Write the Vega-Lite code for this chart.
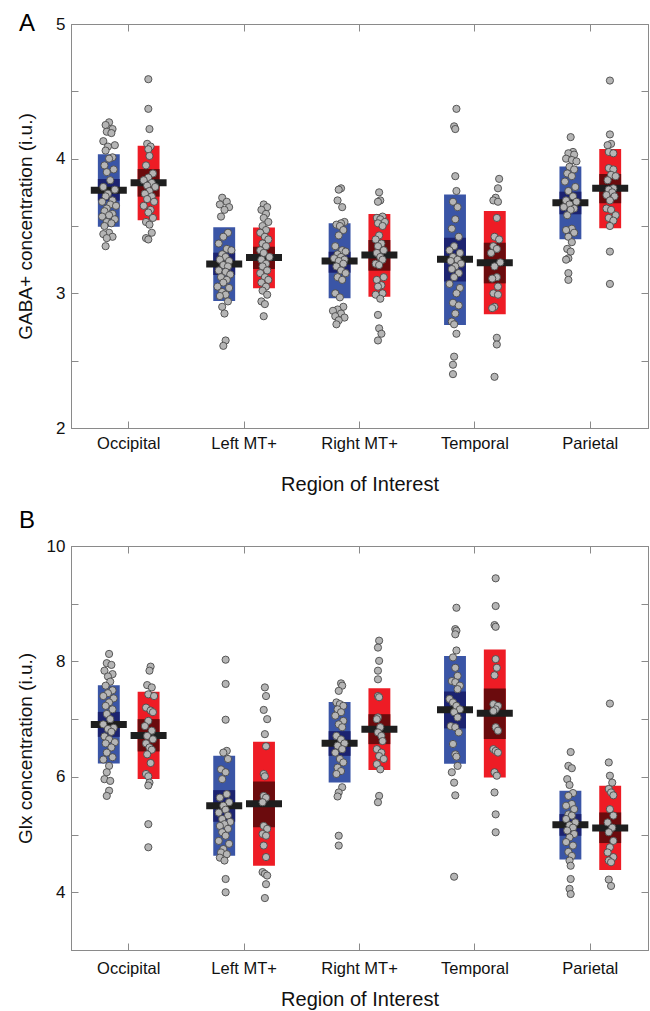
{
  "$schema": "https://vega.github.io/schema/vega-lite/v6.json",
  "padding": {"left": 15, "top": 11, "right": 0, "bottom": 0},
  "spacing": 13,
  "config": {
    "view": {"stroke": "#8a8a8a", "strokeWidth": 1},
    "font": "Liberation Sans",
    "axis": {
      "grid": false, "domainColor": "#8a8a8a", "tickColor": "#8a8a8a", "tickSize": -7, "tickWidth": 1,
      "labelFont": "Liberation Sans", "titleFont": "Liberation Sans", "labelColor": "#111111", "titleColor": "#111111",
      "labelFontSize": 16.5, "titleFontSize": 20, "titleFontWeight": "normal"
    },
    "title": {"font": "Liberation Sans", "fontSize": 24, "fontWeight": "normal", "color": "#000000", "anchor": "start", "frame": "group", "baseline": "alphabetic", "offset": 0}
  },
  "datasets": {
    "barsA": [
      {"r": "Occipital", "g": "b", "sdlo": 3.495, "sdhi": 4.032, "cilo": 3.688, "cihi": 3.849, "m": 3.765},
      {"r": "Occipital", "g": "r", "sdlo": 3.542, "sdhi": 4.096, "cilo": 3.718, "cihi": 3.923, "m": 3.822},
      {"r": "Left MT+", "g": "b", "sdlo": 2.943, "sdhi": 3.490, "cilo": 3.136, "cihi": 3.302, "m": 3.218},
      {"r": "Left MT+", "g": "r", "sdlo": 3.037, "sdhi": 3.488, "cilo": 3.181, "cihi": 3.346, "m": 3.267},
      {"r": "Right MT+", "g": "b", "sdlo": 2.963, "sdhi": 3.520, "cilo": 3.153, "cihi": 3.309, "m": 3.240},
      {"r": "Right MT+", "g": "r", "sdlo": 2.975, "sdhi": 3.589, "cilo": 3.168, "cihi": 3.396, "m": 3.285},
      {"r": "Temporal", "g": "b", "sdlo": 2.765, "sdhi": 3.733, "cilo": 3.087, "cihi": 3.413, "m": 3.253},
      {"r": "Temporal", "g": "r", "sdlo": 2.844, "sdhi": 3.611, "cilo": 3.074, "cihi": 3.376, "m": 3.228},
      {"r": "Parietal", "g": "b", "sdlo": 3.401, "sdhi": 3.941, "cilo": 3.587, "cihi": 3.755, "m": 3.673},
      {"r": "Parietal", "g": "r", "sdlo": 3.483, "sdhi": 4.072, "cilo": 3.669, "cihi": 3.886, "m": 3.780}
    ],
    "barsB": [
      {"r": "Occipital", "g": "b", "sdlo": 6.232, "sdhi": 7.588, "cilo": 6.693, "cihi": 7.126, "m": 6.907},
      {"r": "Occipital", "g": "r", "sdlo": 5.961, "sdhi": 7.473, "cilo": 6.440, "cihi": 7.000, "m": 6.717},
      {"r": "Left MT+", "g": "b", "sdlo": 4.633, "sdhi": 6.364, "cilo": 5.222, "cihi": 5.770, "m": 5.499},
      {"r": "Left MT+", "g": "r", "sdlo": 4.460, "sdhi": 6.607, "cilo": 5.125, "cihi": 5.921, "m": 5.533},
      {"r": "Right MT+", "g": "b", "sdlo": 5.904, "sdhi": 7.299, "cilo": 6.364, "cihi": 6.792, "m": 6.584},
      {"r": "Right MT+", "g": "r", "sdlo": 6.117, "sdhi": 7.536, "cilo": 6.567, "cihi": 7.086, "m": 6.827},
      {"r": "Temporal", "g": "b", "sdlo": 6.226, "sdhi": 8.096, "cilo": 6.839, "cihi": 7.479, "m": 7.161},
      {"r": "Temporal", "g": "r", "sdlo": 5.990, "sdhi": 8.206, "cilo": 6.654, "cihi": 7.531, "m": 7.104},
      {"r": "Parietal", "g": "b", "sdlo": 4.570, "sdhi": 5.758, "cilo": 4.979, "cihi": 5.355, "m": 5.170},
      {"r": "Parietal", "g": "r", "sdlo": 4.385, "sdhi": 5.845, "cilo": 4.853, "cihi": 5.384, "m": 5.113}
    ],
    "ptsA": [
      {"r":"Occipital","g":"b","v":4.27,"j":0.33},{"r":"Occipital","g":"b","v":4.25,"j":0.30},{"r":"Occipital","g":"b","v":4.22,"j":0.36},{"r":"Occipital","g":"b","v":4.20,"j":0.31},{"r":"Occipital","g":"b","v":4.19,"j":0.35},{"r":"Occipital","g":"b","v":4.13,"j":0.28},{"r":"Occipital","g":"b","v":4.10,"j":0.38},{"r":"Occipital","g":"b","v":4.09,"j":0.32},{"r":"Occipital","g":"b","v":4.06,"j":0.30},{"r":"Occipital","g":"b","v":4.01,"j":0.36},{"r":"Occipital","g":"b","v":4.00,"j":0.33},{"r":"Occipital","g":"b","v":3.95,"j":0.29},{"r":"Occipital","g":"b","v":3.92,"j":0.37},{"r":"Occipital","g":"b","v":3.90,"j":0.31},{"r":"Occipital","g":"b","v":3.84,"j":0.34},{"r":"Occipital","g":"b","v":3.79,"j":0.28},{"r":"Occipital","g":"b","v":3.77,"j":0.38},{"r":"Occipital","g":"b","v":3.74,"j":0.32},{"r":"Occipital","g":"b","v":3.72,"j":0.30},{"r":"Occipital","g":"b","v":3.69,"j":0.36},{"r":"Occipital","g":"b","v":3.68,"j":0.27},{"r":"Occipital","g":"b","v":3.66,"j":0.34},{"r":"Occipital","g":"b","v":3.65,"j":0.39},{"r":"Occipital","g":"b","v":3.63,"j":0.31},{"r":"Occipital","g":"b","v":3.61,"j":0.29},{"r":"Occipital","g":"b","v":3.59,"j":0.36},{"r":"Occipital","g":"b","v":3.58,"j":0.33},{"r":"Occipital","g":"b","v":3.57,"j":0.27},{"r":"Occipital","g":"b","v":3.55,"j":0.38},{"r":"Occipital","g":"b","v":3.53,"j":0.31},{"r":"Occipital","g":"b","v":3.52,"j":0.35},{"r":"Occipital","g":"b","v":3.50,"j":0.29},{"r":"Occipital","g":"b","v":3.45,"j":0.33},{"r":"Occipital","g":"b","v":3.44,"j":0.28},{"r":"Occipital","g":"b","v":3.42,"j":0.36},{"r":"Occipital","g":"b","v":3.41,"j":0.31},{"r":"Occipital","g":"b","v":3.35,"j":0.30},
      {"r":"Occipital","g":"r","v":4.59,"j":0.67},{"r":"Occipital","g":"r","v":4.37,"j":0.67},{"r":"Occipital","g":"r","v":4.22,"j":0.68},{"r":"Occipital","g":"r","v":4.11,"j":0.66},{"r":"Occipital","g":"r","v":4.09,"j":0.69},{"r":"Occipital","g":"r","v":4.07,"j":0.67},{"r":"Occipital","g":"r","v":4.02,"j":0.68},{"r":"Occipital","g":"r","v":3.95,"j":0.65},{"r":"Occipital","g":"r","v":3.89,"j":0.71},{"r":"Occipital","g":"r","v":3.86,"j":0.67},{"r":"Occipital","g":"r","v":3.84,"j":0.63},{"r":"Occipital","g":"r","v":3.82,"j":0.70},{"r":"Occipital","g":"r","v":3.80,"j":0.66},{"r":"Occipital","g":"r","v":3.79,"j":0.73},{"r":"Occipital","g":"r","v":3.76,"j":0.68},{"r":"Occipital","g":"r","v":3.74,"j":0.64},{"r":"Occipital","g":"r","v":3.72,"j":0.70},{"r":"Occipital","g":"r","v":3.70,"j":0.66},{"r":"Occipital","g":"r","v":3.68,"j":0.72},{"r":"Occipital","g":"r","v":3.65,"j":0.63},{"r":"Occipital","g":"r","v":3.62,"j":0.69},{"r":"Occipital","g":"r","v":3.60,"j":0.67},{"r":"Occipital","g":"r","v":3.56,"j":0.71},{"r":"Occipital","g":"r","v":3.53,"j":0.65},{"r":"Occipital","g":"r","v":3.51,"j":0.68},{"r":"Occipital","g":"r","v":3.45,"j":0.70},{"r":"Occipital","g":"r","v":3.41,"j":0.65},{"r":"Occipital","g":"r","v":3.40,"j":0.67},
      {"r":"Left MT+","g":"b","v":3.71,"j":0.31},{"r":"Left MT+","g":"b","v":3.68,"j":0.35},{"r":"Left MT+","g":"b","v":3.66,"j":0.29},{"r":"Left MT+","g":"b","v":3.64,"j":0.37},{"r":"Left MT+","g":"b","v":3.62,"j":0.33},{"r":"Left MT+","g":"b","v":3.57,"j":0.30},{"r":"Left MT+","g":"b","v":3.45,"j":0.36},{"r":"Left MT+","g":"b","v":3.42,"j":0.32},{"r":"Left MT+","g":"b","v":3.37,"j":0.28},{"r":"Left MT+","g":"b","v":3.33,"j":0.35},{"r":"Left MT+","g":"b","v":3.32,"j":0.39},{"r":"Left MT+","g":"b","v":3.29,"j":0.31},{"r":"Left MT+","g":"b","v":3.27,"j":0.34},{"r":"Left MT+","g":"b","v":3.25,"j":0.29},{"r":"Left MT+","g":"b","v":3.24,"j":0.37},{"r":"Left MT+","g":"b","v":3.21,"j":0.32},{"r":"Left MT+","g":"b","v":3.20,"j":0.36},{"r":"Left MT+","g":"b","v":3.17,"j":0.28},{"r":"Left MT+","g":"b","v":3.16,"j":0.34},{"r":"Left MT+","g":"b","v":3.14,"j":0.38},{"r":"Left MT+","g":"b","v":3.12,"j":0.30},{"r":"Left MT+","g":"b","v":3.10,"j":0.35},{"r":"Left MT+","g":"b","v":3.08,"j":0.32},{"r":"Left MT+","g":"b","v":3.05,"j":0.27},{"r":"Left MT+","g":"b","v":3.04,"j":0.37},{"r":"Left MT+","g":"b","v":3.01,"j":0.31},{"r":"Left MT+","g":"b","v":2.99,"j":0.34},{"r":"Left MT+","g":"b","v":2.98,"j":0.29},{"r":"Left MT+","g":"b","v":2.94,"j":0.36},{"r":"Left MT+","g":"b","v":2.90,"j":0.31},{"r":"Left MT+","g":"b","v":2.85,"j":0.33},{"r":"Left MT+","g":"b","v":2.65,"j":0.34},{"r":"Left MT+","g":"b","v":2.61,"j":0.32},
      {"r":"Left MT+","g":"r","v":3.66,"j":0.67},{"r":"Left MT+","g":"r","v":3.64,"j":0.70},{"r":"Left MT+","g":"r","v":3.62,"j":0.65},{"r":"Left MT+","g":"r","v":3.59,"j":0.69},{"r":"Left MT+","g":"r","v":3.56,"j":0.67},{"r":"Left MT+","g":"r","v":3.53,"j":0.71},{"r":"Left MT+","g":"r","v":3.50,"j":0.66},{"r":"Left MT+","g":"r","v":3.47,"j":0.69},{"r":"Left MT+","g":"r","v":3.45,"j":0.64},{"r":"Left MT+","g":"r","v":3.42,"j":0.68},{"r":"Left MT+","g":"r","v":3.40,"j":0.71},{"r":"Left MT+","g":"r","v":3.37,"j":0.66},{"r":"Left MT+","g":"r","v":3.35,"j":0.69},{"r":"Left MT+","g":"r","v":3.32,"j":0.64},{"r":"Left MT+","g":"r","v":3.30,"j":0.67},{"r":"Left MT+","g":"r","v":3.27,"j":0.72},{"r":"Left MT+","g":"r","v":3.25,"j":0.65},{"r":"Left MT+","g":"r","v":3.22,"j":0.69},{"r":"Left MT+","g":"r","v":3.20,"j":0.66},{"r":"Left MT+","g":"r","v":3.17,"j":0.70},{"r":"Left MT+","g":"r","v":3.15,"j":0.64},{"r":"Left MT+","g":"r","v":3.12,"j":0.68},{"r":"Left MT+","g":"r","v":3.10,"j":0.71},{"r":"Left MT+","g":"r","v":3.08,"j":0.65},{"r":"Left MT+","g":"r","v":3.05,"j":0.69},{"r":"Left MT+","g":"r","v":3.02,"j":0.66},{"r":"Left MT+","g":"r","v":2.99,"j":0.70},{"r":"Left MT+","g":"r","v":2.94,"j":0.65},{"r":"Left MT+","g":"r","v":2.92,"j":0.68},{"r":"Left MT+","g":"r","v":2.83,"j":0.67},
      {"r":"Right MT+","g":"b","v":3.78,"j":0.34},{"r":"Right MT+","g":"b","v":3.77,"j":0.32},{"r":"Right MT+","g":"b","v":3.69,"j":0.31},{"r":"Right MT+","g":"b","v":3.64,"j":0.35},{"r":"Right MT+","g":"b","v":3.53,"j":0.37},{"r":"Right MT+","g":"b","v":3.52,"j":0.34},{"r":"Right MT+","g":"b","v":3.51,"j":0.30},{"r":"Right MT+","g":"b","v":3.50,"j":0.33},{"r":"Right MT+","g":"b","v":3.47,"j":0.36},{"r":"Right MT+","g":"b","v":3.43,"j":0.32},{"r":"Right MT+","g":"b","v":3.35,"j":0.29},{"r":"Right MT+","g":"b","v":3.32,"j":0.35},{"r":"Right MT+","g":"b","v":3.31,"j":0.38},{"r":"Right MT+","g":"b","v":3.29,"j":0.31},{"r":"Right MT+","g":"b","v":3.27,"j":0.34},{"r":"Right MT+","g":"b","v":3.26,"j":0.28},{"r":"Right MT+","g":"b","v":3.25,"j":0.37},{"r":"Right MT+","g":"b","v":3.24,"j":0.32},{"r":"Right MT+","g":"b","v":3.22,"j":0.36},{"r":"Right MT+","g":"b","v":3.20,"j":0.30},{"r":"Right MT+","g":"b","v":3.17,"j":0.34},{"r":"Right MT+","g":"b","v":3.15,"j":0.38},{"r":"Right MT+","g":"b","v":3.12,"j":0.31},{"r":"Right MT+","g":"b","v":3.10,"j":0.35},{"r":"Right MT+","g":"b","v":3.00,"j":0.29},{"r":"Right MT+","g":"b","v":2.97,"j":0.33},{"r":"Right MT+","g":"b","v":2.90,"j":0.36},{"r":"Right MT+","g":"b","v":2.88,"j":0.31},{"r":"Right MT+","g":"b","v":2.87,"j":0.27},{"r":"Right MT+","g":"b","v":2.85,"j":0.34},{"r":"Right MT+","g":"b","v":2.83,"j":0.29},{"r":"Right MT+","g":"b","v":2.82,"j":0.37},{"r":"Right MT+","g":"b","v":2.80,"j":0.32},{"r":"Right MT+","g":"b","v":2.77,"j":0.30},
      {"r":"Right MT+","g":"r","v":3.75,"j":0.67},{"r":"Right MT+","g":"r","v":3.69,"j":0.68},{"r":"Right MT+","g":"r","v":3.68,"j":0.66},{"r":"Right MT+","g":"r","v":3.57,"j":0.70},{"r":"Right MT+","g":"r","v":3.56,"j":0.65},{"r":"Right MT+","g":"r","v":3.55,"j":0.68},{"r":"Right MT+","g":"r","v":3.53,"j":0.72},{"r":"Right MT+","g":"r","v":3.52,"j":0.66},{"r":"Right MT+","g":"r","v":3.50,"j":0.70},{"r":"Right MT+","g":"r","v":3.43,"j":0.67},{"r":"Right MT+","g":"r","v":3.40,"j":0.64},{"r":"Right MT+","g":"r","v":3.37,"j":0.69},{"r":"Right MT+","g":"r","v":3.35,"j":0.66},{"r":"Right MT+","g":"r","v":3.32,"j":0.71},{"r":"Right MT+","g":"r","v":3.30,"j":0.65},{"r":"Right MT+","g":"r","v":3.27,"j":0.68},{"r":"Right MT+","g":"r","v":3.25,"j":0.70},{"r":"Right MT+","g":"r","v":3.22,"j":0.64},{"r":"Right MT+","g":"r","v":3.21,"j":0.67},{"r":"Right MT+","g":"r","v":3.12,"j":0.71},{"r":"Right MT+","g":"r","v":3.10,"j":0.65},{"r":"Right MT+","g":"r","v":3.06,"j":0.69},{"r":"Right MT+","g":"r","v":3.05,"j":0.66},{"r":"Right MT+","g":"r","v":3.00,"j":0.70},{"r":"Right MT+","g":"r","v":2.99,"j":0.64},{"r":"Right MT+","g":"r","v":2.96,"j":0.68},{"r":"Right MT+","g":"r","v":2.84,"j":0.66},{"r":"Right MT+","g":"r","v":2.74,"j":0.67},{"r":"Right MT+","g":"r","v":2.70,"j":0.69},{"r":"Right MT+","g":"r","v":2.65,"j":0.66},
      {"r":"Temporal","g":"b","v":4.37,"j":0.34},{"r":"Temporal","g":"b","v":4.24,"j":0.32},{"r":"Temporal","g":"b","v":4.22,"j":0.33},{"r":"Temporal","g":"b","v":3.87,"j":0.33},{"r":"Temporal","g":"b","v":3.76,"j":0.34},{"r":"Temporal","g":"b","v":3.68,"j":0.31},{"r":"Temporal","g":"b","v":3.64,"j":0.35},{"r":"Temporal","g":"b","v":3.55,"j":0.33},{"r":"Temporal","g":"b","v":3.48,"j":0.30},{"r":"Temporal","g":"b","v":3.42,"j":0.36},{"r":"Temporal","g":"b","v":3.35,"j":0.32},{"r":"Temporal","g":"b","v":3.32,"j":0.28},{"r":"Temporal","g":"b","v":3.30,"j":0.37},{"r":"Temporal","g":"b","v":3.27,"j":0.31},{"r":"Temporal","g":"b","v":3.25,"j":0.35},{"r":"Temporal","g":"b","v":3.24,"j":0.29},{"r":"Temporal","g":"b","v":3.22,"j":0.38},{"r":"Temporal","g":"b","v":3.20,"j":0.33},{"r":"Temporal","g":"b","v":3.18,"j":0.30},{"r":"Temporal","g":"b","v":3.15,"j":0.36},{"r":"Temporal","g":"b","v":3.12,"j":0.32},{"r":"Temporal","g":"b","v":3.07,"j":0.28},{"r":"Temporal","g":"b","v":3.04,"j":0.37},{"r":"Temporal","g":"b","v":3.00,"j":0.34},{"r":"Temporal","g":"b","v":2.93,"j":0.31},{"r":"Temporal","g":"b","v":2.91,"j":0.36},{"r":"Temporal","g":"b","v":2.85,"j":0.33},{"r":"Temporal","g":"b","v":2.79,"j":0.30},{"r":"Temporal","g":"b","v":2.77,"j":0.32},{"r":"Temporal","g":"b","v":2.70,"j":0.34},{"r":"Temporal","g":"b","v":2.53,"j":0.32},{"r":"Temporal","g":"b","v":2.47,"j":0.31},{"r":"Temporal","g":"b","v":2.40,"j":0.31},
      {"r":"Temporal","g":"r","v":3.85,"j":0.71},{"r":"Temporal","g":"r","v":3.78,"j":0.70},{"r":"Temporal","g":"r","v":3.71,"j":0.68},{"r":"Temporal","g":"r","v":3.69,"j":0.66},{"r":"Temporal","g":"r","v":3.68,"j":0.70},{"r":"Temporal","g":"r","v":3.56,"j":0.69},{"r":"Temporal","g":"r","v":3.42,"j":0.67},{"r":"Temporal","g":"r","v":3.40,"j":0.71},{"r":"Temporal","g":"r","v":3.35,"j":0.66},{"r":"Temporal","g":"r","v":3.33,"j":0.69},{"r":"Temporal","g":"r","v":3.30,"j":0.64},{"r":"Temporal","g":"r","v":3.23,"j":0.72},{"r":"Temporal","g":"r","v":3.20,"j":0.67},{"r":"Temporal","g":"r","v":3.12,"j":0.69},{"r":"Temporal","g":"r","v":3.11,"j":0.65},{"r":"Temporal","g":"r","v":3.05,"j":0.70},{"r":"Temporal","g":"r","v":3.00,"j":0.66},{"r":"Temporal","g":"r","v":2.99,"j":0.70},{"r":"Temporal","g":"r","v":2.90,"j":0.67},{"r":"Temporal","g":"r","v":2.89,"j":0.65},{"r":"Temporal","g":"r","v":2.67,"j":0.69},{"r":"Temporal","g":"r","v":2.62,"j":0.69},{"r":"Temporal","g":"r","v":2.38,"j":0.67},
      {"r":"Parietal","g":"b","v":4.16,"j":0.33},{"r":"Parietal","g":"b","v":4.05,"j":0.35},{"r":"Parietal","g":"b","v":4.04,"j":0.31},{"r":"Parietal","g":"b","v":4.03,"j":0.36},{"r":"Parietal","g":"b","v":4.00,"j":0.29},{"r":"Parietal","g":"b","v":3.99,"j":0.34},{"r":"Parietal","g":"b","v":3.98,"j":0.38},{"r":"Parietal","g":"b","v":3.94,"j":0.32},{"r":"Parietal","g":"b","v":3.92,"j":0.36},{"r":"Parietal","g":"b","v":3.89,"j":0.30},{"r":"Parietal","g":"b","v":3.87,"j":0.34},{"r":"Parietal","g":"b","v":3.83,"j":0.28},{"r":"Parietal","g":"b","v":3.79,"j":0.37},{"r":"Parietal","g":"b","v":3.76,"j":0.31},{"r":"Parietal","g":"b","v":3.72,"j":0.35},{"r":"Parietal","g":"b","v":3.69,"j":0.29},{"r":"Parietal","g":"b","v":3.68,"j":0.38},{"r":"Parietal","g":"b","v":3.66,"j":0.32},{"r":"Parietal","g":"b","v":3.64,"j":0.27},{"r":"Parietal","g":"b","v":3.63,"j":0.36},{"r":"Parietal","g":"b","v":3.62,"j":0.33},{"r":"Parietal","g":"b","v":3.58,"j":0.30},{"r":"Parietal","g":"b","v":3.48,"j":0.34},{"r":"Parietal","g":"b","v":3.47,"j":0.29},{"r":"Parietal","g":"b","v":3.45,"j":0.36},{"r":"Parietal","g":"b","v":3.42,"j":0.31},{"r":"Parietal","g":"b","v":3.38,"j":0.34},{"r":"Parietal","g":"b","v":3.33,"j":0.30},{"r":"Parietal","g":"b","v":3.31,"j":0.33},{"r":"Parietal","g":"b","v":3.26,"j":0.31},{"r":"Parietal","g":"b","v":3.25,"j":0.29},{"r":"Parietal","g":"b","v":3.15,"j":0.31},{"r":"Parietal","g":"b","v":3.10,"j":0.31},
      {"r":"Parietal","g":"r","v":4.58,"j":0.67},{"r":"Parietal","g":"r","v":4.18,"j":0.67},{"r":"Parietal","g":"r","v":4.11,"j":0.68},{"r":"Parietal","g":"r","v":4.10,"j":0.65},{"r":"Parietal","g":"r","v":4.05,"j":0.66},{"r":"Parietal","g":"r","v":4.04,"j":0.70},{"r":"Parietal","g":"r","v":3.93,"j":0.66},{"r":"Parietal","g":"r","v":3.92,"j":0.70},{"r":"Parietal","g":"r","v":3.88,"j":0.68},{"r":"Parietal","g":"r","v":3.87,"j":0.72},{"r":"Parietal","g":"r","v":3.84,"j":0.65},{"r":"Parietal","g":"r","v":3.78,"j":0.70},{"r":"Parietal","g":"r","v":3.77,"j":0.66},{"r":"Parietal","g":"r","v":3.75,"j":0.69},{"r":"Parietal","g":"r","v":3.73,"j":0.64},{"r":"Parietal","g":"r","v":3.72,"j":0.71},{"r":"Parietal","g":"r","v":3.69,"j":0.67},{"r":"Parietal","g":"r","v":3.63,"j":0.64},{"r":"Parietal","g":"r","v":3.62,"j":0.68},{"r":"Parietal","g":"r","v":3.58,"j":0.72},{"r":"Parietal","g":"r","v":3.56,"j":0.66},{"r":"Parietal","g":"r","v":3.54,"j":0.70},{"r":"Parietal","g":"r","v":3.50,"j":0.67},{"r":"Parietal","g":"r","v":3.31,"j":0.67},{"r":"Parietal","g":"r","v":3.07,"j":0.67}
    ],
    "ptsB": [
      {"r":"Occipital","g":"b","v":8.13,"j":0.33},{"r":"Occipital","g":"b","v":7.97,"j":0.31},{"r":"Occipital","g":"b","v":7.94,"j":0.35},{"r":"Occipital","g":"b","v":7.84,"j":0.29},{"r":"Occipital","g":"b","v":7.78,"j":0.36},{"r":"Occipital","g":"b","v":7.74,"j":0.32},{"r":"Occipital","g":"b","v":7.65,"j":0.34},{"r":"Occipital","g":"b","v":7.58,"j":0.30},{"r":"Occipital","g":"b","v":7.50,"j":0.36},{"r":"Occipital","g":"b","v":7.45,"j":0.32},{"r":"Occipital","g":"b","v":7.40,"j":0.28},{"r":"Occipital","g":"b","v":7.36,"j":0.37},{"r":"Occipital","g":"b","v":7.29,"j":0.33},{"r":"Occipital","g":"b","v":7.23,"j":0.30},{"r":"Occipital","g":"b","v":7.17,"j":0.36},{"r":"Occipital","g":"b","v":7.09,"j":0.31},{"r":"Occipital","g":"b","v":7.00,"j":0.34},{"r":"Occipital","g":"b","v":6.91,"j":0.28},{"r":"Occipital","g":"b","v":6.85,"j":0.37},{"r":"Occipital","g":"b","v":6.83,"j":0.32},{"r":"Occipital","g":"b","v":6.78,"j":0.35},{"r":"Occipital","g":"b","v":6.70,"j":0.29},{"r":"Occipital","g":"b","v":6.65,"j":0.33},{"r":"Occipital","g":"b","v":6.60,"j":0.38},{"r":"Occipital","g":"b","v":6.58,"j":0.30},{"r":"Occipital","g":"b","v":6.51,"j":0.35},{"r":"Occipital","g":"b","v":6.42,"j":0.31},{"r":"Occipital","g":"b","v":6.34,"j":0.36},{"r":"Occipital","g":"b","v":6.30,"j":0.28},{"r":"Occipital","g":"b","v":6.19,"j":0.33},{"r":"Occipital","g":"b","v":6.08,"j":0.31},{"r":"Occipital","g":"b","v":5.96,"j":0.29},{"r":"Occipital","g":"b","v":5.93,"j":0.34},{"r":"Occipital","g":"b","v":5.76,"j":0.33},{"r":"Occipital","g":"b","v":5.67,"j":0.31},
      {"r":"Occipital","g":"r","v":7.91,"j":0.69},{"r":"Occipital","g":"r","v":7.84,"j":0.68},{"r":"Occipital","g":"r","v":7.59,"j":0.66},{"r":"Occipital","g":"r","v":7.55,"j":0.70},{"r":"Occipital","g":"r","v":7.43,"j":0.67},{"r":"Occipital","g":"r","v":7.40,"j":0.72},{"r":"Occipital","g":"r","v":7.20,"j":0.65},{"r":"Occipital","g":"r","v":7.15,"j":0.69},{"r":"Occipital","g":"r","v":7.12,"j":0.71},{"r":"Occipital","g":"r","v":6.97,"j":0.67},{"r":"Occipital","g":"r","v":6.88,"j":0.64},{"r":"Occipital","g":"r","v":6.80,"j":0.70},{"r":"Occipital","g":"r","v":6.71,"j":0.66},{"r":"Occipital","g":"r","v":6.65,"j":0.71},{"r":"Occipital","g":"r","v":6.58,"j":0.65},{"r":"Occipital","g":"r","v":6.51,"j":0.68},{"r":"Occipital","g":"r","v":6.47,"j":0.70},{"r":"Occipital","g":"r","v":6.39,"j":0.66},{"r":"Occipital","g":"r","v":6.24,"j":0.69},{"r":"Occipital","g":"r","v":6.05,"j":0.65},{"r":"Occipital","g":"r","v":6.01,"j":0.67},{"r":"Occipital","g":"r","v":5.90,"j":0.68},{"r":"Occipital","g":"r","v":5.85,"j":0.67},{"r":"Occipital","g":"r","v":5.18,"j":0.67},{"r":"Occipital","g":"r","v":4.78,"j":0.67},
      {"r":"Left MT+","g":"b","v":8.03,"j":0.34},{"r":"Left MT+","g":"b","v":7.61,"j":0.34},{"r":"Left MT+","g":"b","v":6.99,"j":0.34},{"r":"Left MT+","g":"b","v":6.45,"j":0.35},{"r":"Left MT+","g":"b","v":6.42,"j":0.32},{"r":"Left MT+","g":"b","v":6.31,"j":0.36},{"r":"Left MT+","g":"b","v":6.13,"j":0.30},{"r":"Left MT+","g":"b","v":6.08,"j":0.34},{"r":"Left MT+","g":"b","v":5.96,"j":0.31},{"r":"Left MT+","g":"b","v":5.70,"j":0.35},{"r":"Left MT+","g":"b","v":5.64,"j":0.29},{"r":"Left MT+","g":"b","v":5.56,"j":0.37},{"r":"Left MT+","g":"b","v":5.50,"j":0.32},{"r":"Left MT+","g":"b","v":5.43,"j":0.34},{"r":"Left MT+","g":"b","v":5.38,"j":0.28},{"r":"Left MT+","g":"b","v":5.33,"j":0.36},{"r":"Left MT+","g":"b","v":5.27,"j":0.31},{"r":"Left MT+","g":"b","v":5.22,"j":0.38},{"r":"Left MT+","g":"b","v":5.18,"j":0.33},{"r":"Left MT+","g":"b","v":5.15,"j":0.29},{"r":"Left MT+","g":"b","v":5.10,"j":0.36},{"r":"Left MT+","g":"b","v":5.04,"j":0.31},{"r":"Left MT+","g":"b","v":4.98,"j":0.34},{"r":"Left MT+","g":"b","v":4.89,"j":0.28},{"r":"Left MT+","g":"b","v":4.84,"j":0.37},{"r":"Left MT+","g":"b","v":4.75,"j":0.32},{"r":"Left MT+","g":"b","v":4.69,"j":0.30},{"r":"Left MT+","g":"b","v":4.66,"j":0.35},{"r":"Left MT+","g":"b","v":4.60,"j":0.29},{"r":"Left MT+","g":"b","v":4.55,"j":0.33},{"r":"Left MT+","g":"b","v":4.23,"j":0.34},{"r":"Left MT+","g":"b","v":4.00,"j":0.34},
      {"r":"Left MT+","g":"r","v":7.55,"j":0.68},{"r":"Left MT+","g":"r","v":7.40,"j":0.69},{"r":"Left MT+","g":"r","v":7.16,"j":0.67},{"r":"Left MT+","g":"r","v":7.00,"j":0.70},{"r":"Left MT+","g":"r","v":6.74,"j":0.68},{"r":"Left MT+","g":"r","v":6.53,"j":0.69},{"r":"Left MT+","g":"r","v":6.05,"j":0.67},{"r":"Left MT+","g":"r","v":6.01,"j":0.68},{"r":"Left MT+","g":"r","v":5.67,"j":0.67},{"r":"Left MT+","g":"r","v":5.64,"j":0.69},{"r":"Left MT+","g":"r","v":5.56,"j":0.66},{"r":"Left MT+","g":"r","v":5.15,"j":0.67},{"r":"Left MT+","g":"r","v":5.10,"j":0.70},{"r":"Left MT+","g":"r","v":5.01,"j":0.66},{"r":"Left MT+","g":"r","v":4.98,"j":0.69},{"r":"Left MT+","g":"r","v":4.81,"j":0.67},{"r":"Left MT+","g":"r","v":4.61,"j":0.69},{"r":"Left MT+","g":"r","v":4.35,"j":0.66},{"r":"Left MT+","g":"r","v":4.32,"j":0.68},{"r":"Left MT+","g":"r","v":4.29,"j":0.70},{"r":"Left MT+","g":"r","v":4.14,"j":0.69},{"r":"Left MT+","g":"r","v":3.90,"j":0.68},
      {"r":"Right MT+","g":"b","v":7.62,"j":0.34},{"r":"Right MT+","g":"b","v":7.58,"j":0.35},{"r":"Right MT+","g":"b","v":7.49,"j":0.32},{"r":"Right MT+","g":"b","v":7.29,"j":0.30},{"r":"Right MT+","g":"b","v":7.26,"j":0.33},{"r":"Right MT+","g":"b","v":7.23,"j":0.36},{"r":"Right MT+","g":"b","v":7.17,"j":0.31},{"r":"Right MT+","g":"b","v":7.12,"j":0.34},{"r":"Right MT+","g":"b","v":7.06,"j":0.29},{"r":"Right MT+","g":"b","v":6.97,"j":0.36},{"r":"Right MT+","g":"b","v":6.91,"j":0.32},{"r":"Right MT+","g":"b","v":6.86,"j":0.35},{"r":"Right MT+","g":"b","v":6.71,"j":0.30},{"r":"Right MT+","g":"b","v":6.65,"j":0.34},{"r":"Right MT+","g":"b","v":6.58,"j":0.37},{"r":"Right MT+","g":"b","v":6.54,"j":0.31},{"r":"Right MT+","g":"b","v":6.48,"j":0.35},{"r":"Right MT+","g":"b","v":6.42,"j":0.29},{"r":"Right MT+","g":"b","v":6.31,"j":0.33},{"r":"Right MT+","g":"b","v":6.25,"j":0.36},{"r":"Right MT+","g":"b","v":6.16,"j":0.31},{"r":"Right MT+","g":"b","v":6.10,"j":0.34},{"r":"Right MT+","g":"b","v":6.05,"j":0.30},{"r":"Right MT+","g":"b","v":5.82,"j":0.35},{"r":"Right MT+","g":"b","v":5.73,"j":0.32},{"r":"Right MT+","g":"b","v":5.66,"j":0.31},{"r":"Right MT+","g":"b","v":4.98,"j":0.32},{"r":"Right MT+","g":"b","v":4.81,"j":0.32},
      {"r":"Right MT+","g":"r","v":8.36,"j":0.67},{"r":"Right MT+","g":"r","v":8.24,"j":0.66},{"r":"Right MT+","g":"r","v":8.01,"j":0.67},{"r":"Right MT+","g":"r","v":7.84,"j":0.66},{"r":"Right MT+","g":"r","v":7.69,"j":0.66},{"r":"Right MT+","g":"r","v":7.40,"j":0.66},{"r":"Right MT+","g":"r","v":7.38,"j":0.67},{"r":"Right MT+","g":"r","v":7.03,"j":0.66},{"r":"Right MT+","g":"r","v":7.00,"j":0.65},{"r":"Right MT+","g":"r","v":6.86,"j":0.68},{"r":"Right MT+","g":"r","v":6.77,"j":0.66},{"r":"Right MT+","g":"r","v":6.71,"j":0.69},{"r":"Right MT+","g":"r","v":6.62,"j":0.70},{"r":"Right MT+","g":"r","v":6.48,"j":0.65},{"r":"Right MT+","g":"r","v":6.42,"j":0.69},{"r":"Right MT+","g":"r","v":6.36,"j":0.67},{"r":"Right MT+","g":"r","v":6.31,"j":0.71},{"r":"Right MT+","g":"r","v":6.22,"j":0.65},{"r":"Right MT+","g":"r","v":6.13,"j":0.68},{"r":"Right MT+","g":"r","v":5.67,"j":0.67},{"r":"Right MT+","g":"r","v":5.56,"j":0.66},
      {"r":"Temporal","g":"b","v":8.93,"j":0.34},{"r":"Temporal","g":"b","v":8.56,"j":0.33},{"r":"Temporal","g":"b","v":8.53,"j":0.34},{"r":"Temporal","g":"b","v":8.47,"j":0.33},{"r":"Temporal","g":"b","v":8.19,"j":0.34},{"r":"Temporal","g":"b","v":8.07,"j":0.31},{"r":"Temporal","g":"b","v":7.89,"j":0.33},{"r":"Temporal","g":"b","v":7.75,"j":0.35},{"r":"Temporal","g":"b","v":7.66,"j":0.30},{"r":"Temporal","g":"b","v":7.64,"j":0.33},{"r":"Temporal","g":"b","v":7.58,"j":0.37},{"r":"Temporal","g":"b","v":7.52,"j":0.35},{"r":"Temporal","g":"b","v":7.35,"j":0.28},{"r":"Temporal","g":"b","v":7.29,"j":0.31},{"r":"Temporal","g":"b","v":7.23,"j":0.34},{"r":"Temporal","g":"b","v":7.17,"j":0.37},{"r":"Temporal","g":"b","v":7.12,"j":0.32},{"r":"Temporal","g":"b","v":7.03,"j":0.35},{"r":"Temporal","g":"b","v":6.88,"j":0.29},{"r":"Temporal","g":"b","v":6.86,"j":0.33},{"r":"Temporal","g":"b","v":6.77,"j":0.36},{"r":"Temporal","g":"b","v":6.57,"j":0.31},{"r":"Temporal","g":"b","v":6.39,"j":0.33},{"r":"Temporal","g":"b","v":6.35,"j":0.34},{"r":"Temporal","g":"b","v":6.19,"j":0.35},{"r":"Temporal","g":"b","v":6.08,"j":0.30},{"r":"Temporal","g":"b","v":5.90,"j":0.32},{"r":"Temporal","g":"b","v":5.68,"j":0.33},{"r":"Temporal","g":"b","v":4.27,"j":0.32},
      {"r":"Temporal","g":"r","v":9.44,"j":0.68},{"r":"Temporal","g":"r","v":8.96,"j":0.68},{"r":"Temporal","g":"r","v":8.63,"j":0.67},{"r":"Temporal","g":"r","v":8.60,"j":0.68},{"r":"Temporal","g":"r","v":8.04,"j":0.68},{"r":"Temporal","g":"r","v":7.89,"j":0.69},{"r":"Temporal","g":"r","v":7.76,"j":0.67},{"r":"Temporal","g":"r","v":7.26,"j":0.66},{"r":"Temporal","g":"r","v":7.23,"j":0.70},{"r":"Temporal","g":"r","v":7.17,"j":0.68},{"r":"Temporal","g":"r","v":7.14,"j":0.66},{"r":"Temporal","g":"r","v":6.86,"j":0.68},{"r":"Temporal","g":"r","v":6.80,"j":0.70},{"r":"Temporal","g":"r","v":6.48,"j":0.66},{"r":"Temporal","g":"r","v":6.45,"j":0.68},{"r":"Temporal","g":"r","v":6.42,"j":0.70},{"r":"Temporal","g":"r","v":6.08,"j":0.67},{"r":"Temporal","g":"r","v":6.02,"j":0.69},{"r":"Temporal","g":"r","v":5.73,"j":0.67},{"r":"Temporal","g":"r","v":5.35,"j":0.68},{"r":"Temporal","g":"r","v":5.04,"j":0.68},
      {"r":"Parietal","g":"b","v":6.43,"j":0.33},{"r":"Parietal","g":"b","v":6.19,"j":0.31},{"r":"Parietal","g":"b","v":6.15,"j":0.34},{"r":"Parietal","g":"b","v":5.96,"j":0.30},{"r":"Parietal","g":"b","v":5.86,"j":0.32},{"r":"Parietal","g":"b","v":5.72,"j":0.35},{"r":"Parietal","g":"b","v":5.67,"j":0.31},{"r":"Parietal","g":"b","v":5.53,"j":0.34},{"r":"Parietal","g":"b","v":5.50,"j":0.29},{"r":"Parietal","g":"b","v":5.44,"j":0.36},{"r":"Parietal","g":"b","v":5.35,"j":0.31},{"r":"Parietal","g":"b","v":5.33,"j":0.34},{"r":"Parietal","g":"b","v":5.27,"j":0.29},{"r":"Parietal","g":"b","v":5.21,"j":0.37},{"r":"Parietal","g":"b","v":5.16,"j":0.32},{"r":"Parietal","g":"b","v":5.12,"j":0.35},{"r":"Parietal","g":"b","v":5.07,"j":0.30},{"r":"Parietal","g":"b","v":5.01,"j":0.36},{"r":"Parietal","g":"b","v":4.95,"j":0.32},{"r":"Parietal","g":"b","v":4.87,"j":0.29},{"r":"Parietal","g":"b","v":4.81,"j":0.35},{"r":"Parietal","g":"b","v":4.70,"j":0.31},{"r":"Parietal","g":"b","v":4.63,"j":0.34},{"r":"Parietal","g":"b","v":4.55,"j":0.32},{"r":"Parietal","g":"b","v":4.46,"j":0.33},{"r":"Parietal","g":"b","v":4.23,"j":0.33},{"r":"Parietal","g":"b","v":4.06,"j":0.32},{"r":"Parietal","g":"b","v":3.97,"j":0.33},
      {"r":"Parietal","g":"r","v":7.27,"j":0.67},{"r":"Parietal","g":"r","v":6.25,"j":0.66},{"r":"Parietal","g":"r","v":6.02,"j":0.67},{"r":"Parietal","g":"r","v":5.90,"j":0.69},{"r":"Parietal","g":"r","v":5.79,"j":0.66},{"r":"Parietal","g":"r","v":5.73,"j":0.68},{"r":"Parietal","g":"r","v":5.68,"j":0.70},{"r":"Parietal","g":"r","v":5.44,"j":0.67},{"r":"Parietal","g":"r","v":5.33,"j":0.70},{"r":"Parietal","g":"r","v":5.21,"j":0.65},{"r":"Parietal","g":"r","v":5.12,"j":0.69},{"r":"Parietal","g":"r","v":5.04,"j":0.66},{"r":"Parietal","g":"r","v":4.89,"j":0.70},{"r":"Parietal","g":"r","v":4.78,"j":0.67},{"r":"Parietal","g":"r","v":4.69,"j":0.65},{"r":"Parietal","g":"r","v":4.61,"j":0.70},{"r":"Parietal","g":"r","v":4.55,"j":0.66},{"r":"Parietal","g":"r","v":4.52,"j":0.68},{"r":"Parietal","g":"r","v":4.22,"j":0.66},{"r":"Parietal","g":"r","v":4.11,"j":0.68}
    ]
  },
  "vconcat": [
    {
      "width": 577, "height": 404,
      "title": {"text": "A", "dx": -52, "dy": 25},
      "layer": [
        {
          "data": {"name": "barsA"},
          "mark": {"type": "bar"},
          "encoding": {
            "x": {"field": "r", "type": "nominal", "sort": null, "scale": {"domain": ["Occipital", "Left MT+", "Right MT+", "Temporal", "Parietal"], "paddingInner": 0, "paddingOuter": 0},
                  "axis": {"orient": "bottom", "title": "Region of Interest", "labelAngle": 0, "labelPadding": 14, "titlePadding": 23}},
            "xOffset": {"field": "g", "type": "nominal", "scale": {"domain": ["b", "r"], "paddingInner": 0.45, "paddingOuter": 0.675}},
            "y": {"field": "sdlo", "type": "quantitative", "scale": {"domain": [2, 5], "nice": false, "zero": false},
                  "axis": {"orient": "left", "title": "GABA+ concentration (i.u.)", "titleFontSize": 19, "values": [2, 2.5, 3, 3.5, 4, 4.5, 5], "labelExpr": "datum.value % 1 === 0 ? format(datum.value, 'd') : ''", "labelPadding": 13, "labelFontSize": 17, "titleX": -46, "titleBaseline": "middle"}},
            "y2": {"field": "sdhi"},
            "color": {"field": "g", "type": "nominal", "scale": {"domain": ["b", "r"], "range": ["#3a55a6", "#ee1c25"]}, "legend": null}
          }
        },
        {
          "data": {"name": "barsA"},
          "mark": {"type": "bar"},
          "encoding": {
            "x": {"field": "r", "type": "nominal", "sort": null, "axis": {"orient": "top", "labels": false, "title": null}},
            "xOffset": {"field": "g", "type": "nominal", "scale": {"domain": ["b", "r"], "paddingInner": 0.45, "paddingOuter": 0.675}},
            "y": {"field": "cilo", "type": "quantitative", "axis": null},
            "y2": {"field": "cihi"},
            "color": {"field": "g", "type": "nominal", "scale": {"domain": ["b", "r"], "range": ["#1c2370", "#6b0b0d"]}, "legend": null}
          }
        },
        {
          "data": {"name": "barsA"},
          "mark": {"type": "tick", "size": 36, "thickness": 7, "color": "#1e1e1e", "opacity": 1},
          "encoding": {
            "x": {"field": "r", "type": "nominal", "sort": null, "axis": null},
            "xOffset": {"field": "g", "type": "nominal", "scale": {"domain": ["b", "r"], "paddingInner": 0.45, "paddingOuter": 0.675}},
            "y": {"field": "m", "type": "quantitative", "axis": null}
          }
        },
        {
          "data": {"name": "ptsA"},
          "mark": {"type": "circle", "size": 52, "fill": "#b5b5b5", "stroke": "#4a4a4a", "strokeWidth": 0.9, "opacity": 1},
          "encoding": {
            "x": {"field": "r", "type": "nominal", "sort": null, "axis": null},
            "xOffset": {"field": "j", "type": "quantitative", "scale": {"domain": [0, 1], "range": [0, 115.4], "nice": false, "zero": false}},
            "y": {"field": "v", "type": "quantitative", "axis": {"orient": "right", "labels": false, "title": null, "values": [2, 2.5, 3, 3.5, 4, 4.5, 5]}}
          }
        }
      ],
      "resolve": {"scale": {"color": "independent", "xOffset": "independent"}, "axis": {"x": "independent", "y": "independent"}}
    },
    {
      "width": 577, "height": 404,
      "title": {"text": "B", "dx": -52, "dy": 0},
      "layer": [
        {
          "data": {"name": "barsB"},
          "mark": {"type": "bar"},
          "encoding": {
            "x": {"field": "r", "type": "nominal", "sort": null, "scale": {"domain": ["Occipital", "Left MT+", "Right MT+", "Temporal", "Parietal"], "paddingInner": 0, "paddingOuter": 0},
                  "axis": {"orient": "bottom", "title": "Region of Interest", "labelAngle": 0, "labelPadding": 17, "titlePadding": 13}},
            "xOffset": {"field": "g", "type": "nominal", "scale": {"domain": ["b", "r"], "paddingInner": 0.45, "paddingOuter": 0.675}},
            "y": {"field": "sdlo", "type": "quantitative", "scale": {"domain": [3, 10], "nice": false, "zero": false},
                  "axis": {"orient": "left", "title": "Glx concentration (i.u.)", "titleFontSize": 19, "values": [3, 4, 5, 6, 7, 8, 9, 10], "labelExpr": "datum.value % 2 === 0 ? format(datum.value, 'd') : ''", "labelPadding": 13, "labelFontSize": 17, "titleX": -46, "titleBaseline": "middle"}},
            "y2": {"field": "sdhi"},
            "color": {"field": "g", "type": "nominal", "scale": {"domain": ["b", "r"], "range": ["#3a55a6", "#ee1c25"]}, "legend": null}
          }
        },
        {
          "data": {"name": "barsB"},
          "mark": {"type": "bar"},
          "encoding": {
            "x": {"field": "r", "type": "nominal", "sort": null, "axis": {"orient": "top", "labels": false, "title": null}},
            "xOffset": {"field": "g", "type": "nominal", "scale": {"domain": ["b", "r"], "paddingInner": 0.45, "paddingOuter": 0.675}},
            "y": {"field": "cilo", "type": "quantitative", "axis": null},
            "y2": {"field": "cihi"},
            "color": {"field": "g", "type": "nominal", "scale": {"domain": ["b", "r"], "range": ["#1c2370", "#6b0b0d"]}, "legend": null}
          }
        },
        {
          "data": {"name": "barsB"},
          "mark": {"type": "tick", "size": 36, "thickness": 7, "color": "#1e1e1e", "opacity": 1},
          "encoding": {
            "x": {"field": "r", "type": "nominal", "sort": null, "axis": null},
            "xOffset": {"field": "g", "type": "nominal", "scale": {"domain": ["b", "r"], "paddingInner": 0.45, "paddingOuter": 0.675}},
            "y": {"field": "m", "type": "quantitative", "axis": null}
          }
        },
        {
          "data": {"name": "ptsB"},
          "mark": {"type": "circle", "size": 52, "fill": "#b5b5b5", "stroke": "#4a4a4a", "strokeWidth": 0.9, "opacity": 1},
          "encoding": {
            "x": {"field": "r", "type": "nominal", "sort": null, "axis": null},
            "xOffset": {"field": "j", "type": "quantitative", "scale": {"domain": [0, 1], "range": [0, 115.4], "nice": false, "zero": false}},
            "y": {"field": "v", "type": "quantitative", "axis": {"orient": "right", "labels": false, "title": null, "values": [3, 4, 5, 6, 7, 8, 9, 10]}}
          }
        }
      ],
      "resolve": {"scale": {"color": "independent", "xOffset": "independent"}, "axis": {"x": "independent", "y": "independent"}}
    }
  ]
}
